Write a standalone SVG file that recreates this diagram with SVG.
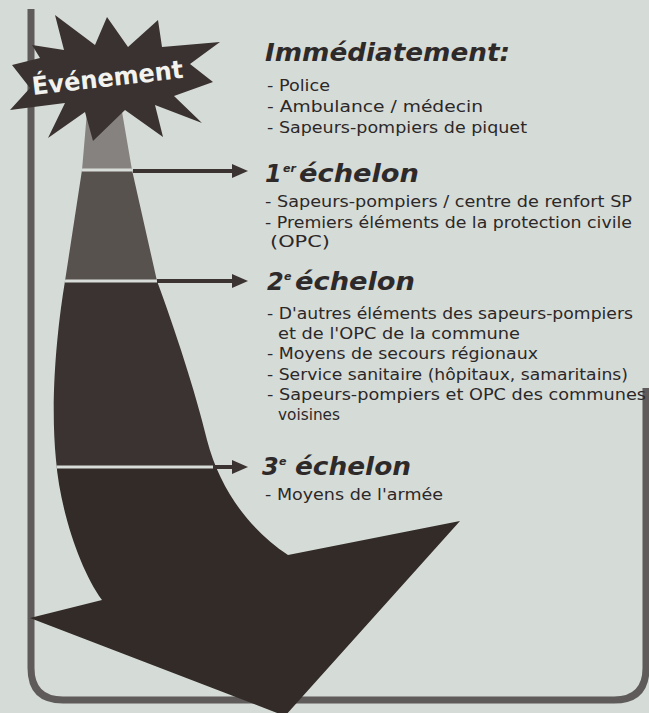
<svg xmlns="http://www.w3.org/2000/svg" width="649" height="713" viewBox="0 0 649 713">
<style>
.body{font-family:"DejaVu Sans","Liberation Sans",sans-serif;font-size:16.5px;fill:#2c2828}
.head{font-family:"DejaVu Sans","Liberation Sans",sans-serif;font-size:24px;font-weight:bold;font-style:italic;fill:#2f2a2a}
.sup{font-size:11px}
.sep{stroke:#d9ddd9;stroke-width:3}
.arr{stroke:#3a3331;stroke-width:4;fill:none}
.head-tip{fill:#3a3331}
</style>
<defs>
<clipPath id="shaftClip">
<path id="shaftPath" d="M88,100 L82,170 L65,281 C57,330 50,400 56,460 C60,510 80,570 102,600 L30,618 L285,716 L460,521 L288,555 C250,530 220,490 207,440 C195,390 175,330 157,281 L132,170 L120,100 Z"/>
</clipPath>
</defs>
<rect x="0" y="0" width="649" height="713" fill="#d5dbd7"/>
<path d="M31,9 V668 Q31,700 63,700 H614 Q646,700 646,668 V388" fill="none" stroke="#5f5b5b" stroke-width="7"/>
<g id="big-arrow">
<g clip-path="url(#shaftClip)">
<rect x="0" y="90" width="500" height="80" fill="#86827f"/>
<rect x="0" y="170" width="500" height="111" fill="#58524f"/>
<rect x="0" y="281" width="500" height="186" fill="#3a3331"/>
<rect x="0" y="467" width="500" height="260" fill="#322b28"/>
<line class="sep" x1="0" y1="170" x2="300" y2="170"/>
<line class="sep" x1="0" y1="281" x2="300" y2="281"/>
<line class="sep" x1="0" y1="467" x2="300" y2="467"/>
</g>
</g>
<g id="connectors">
<line class="arr" x1="133" y1="171" x2="235" y2="171"/>
<polygon class="head-tip" points="232,164 248,171 232,178"/>
<line class="arr" x1="157" y1="281" x2="235" y2="281"/>
<polygon class="head-tip" points="232,274 248,281 232,288"/>
<line class="arr" x1="213" y1="467" x2="235" y2="467"/>
<polygon class="head-tip" points="232,460 248,467 232,474"/>
</g>
<g id="evenement">
<polygon fill="#3a3230" points="32,45 64,50 55,15 95,45 107,17 128,47 158,20 162,47 220,42 190,64 213,82 174,96 202,123 155,105 163,137 125,110 93,141 85,112 48,138 65,103 10,110 30,88 12,65 40,58"/>
<text x="33" y="95" transform="rotate(-6.5 33 95)" font-family="DejaVu Sans, Liberation Sans, sans-serif" font-size="25" font-weight="bold" fill="#f2f2ee" textLength="152" lengthAdjust="spacingAndGlyphs">Événement</text>
</g>
<g id="immediatement">
<text class="head" x="265" y="61" textLength="245" lengthAdjust="spacingAndGlyphs">Immédiatement:</text>
<text class="body" x="267" y="90.5" textLength="63" lengthAdjust="spacingAndGlyphs">- Police</text>
<text class="body" x="267" y="111.5" textLength="216" lengthAdjust="spacingAndGlyphs">- Ambulance / médecin</text>
<text class="body" x="267" y="133" textLength="260" lengthAdjust="spacingAndGlyphs">- Sapeurs-pompiers de piquet</text>
</g>
<g id="echelon1">
<text class="head" x="265" y="182">1<tspan class="sup" x="283" y="172">er</tspan><tspan x="299" y="182" textLength="120" lengthAdjust="spacingAndGlyphs">échelon</tspan></text>
<text class="body" x="265" y="207" textLength="367" lengthAdjust="spacingAndGlyphs">- Sapeurs-pompiers / centre de renfort SP</text>
<text class="body" x="265" y="227.5" textLength="367" lengthAdjust="spacingAndGlyphs">- Premiers éléments de la protection civile</text>
<text class="body" x="270" y="247" textLength="60" lengthAdjust="spacingAndGlyphs">(OPC)</text>
</g>
<g id="echelon2">
<text class="head" x="267" y="290">2<tspan class="sup" x="284" y="280">e</tspan><tspan x="295" y="290" textLength="120" lengthAdjust="spacingAndGlyphs">échelon</tspan></text>
<text class="body" x="267" y="318.5" textLength="366" lengthAdjust="spacingAndGlyphs">- D'autres éléments des sapeurs-pompiers</text>
<text class="body" x="278" y="338.5" textLength="242" lengthAdjust="spacingAndGlyphs">et de l'OPC de la commune</text>
<text class="body" x="267" y="358.5" textLength="271" lengthAdjust="spacingAndGlyphs">- Moyens de secours régionaux</text>
<text class="body" x="267" y="379.5" textLength="361" lengthAdjust="spacingAndGlyphs">- Service sanitaire (hôpitaux, samaritains)</text>
<text class="body" x="267" y="400" textLength="379" lengthAdjust="spacingAndGlyphs">- Sapeurs-pompiers et OPC des communes</text>
<text class="body" x="278" y="420" textLength="62" lengthAdjust="spacingAndGlyphs">voisines</text>
</g>
<g id="echelon3">
<text class="head" x="262" y="475">3<tspan class="sup" x="279" y="465">e</tspan><tspan x="295" y="475" textLength="116" lengthAdjust="spacingAndGlyphs">échelon</tspan></text>
<text class="body" x="265" y="500" textLength="178" lengthAdjust="spacingAndGlyphs">- Moyens de l'armée</text>
</g>
</svg>
